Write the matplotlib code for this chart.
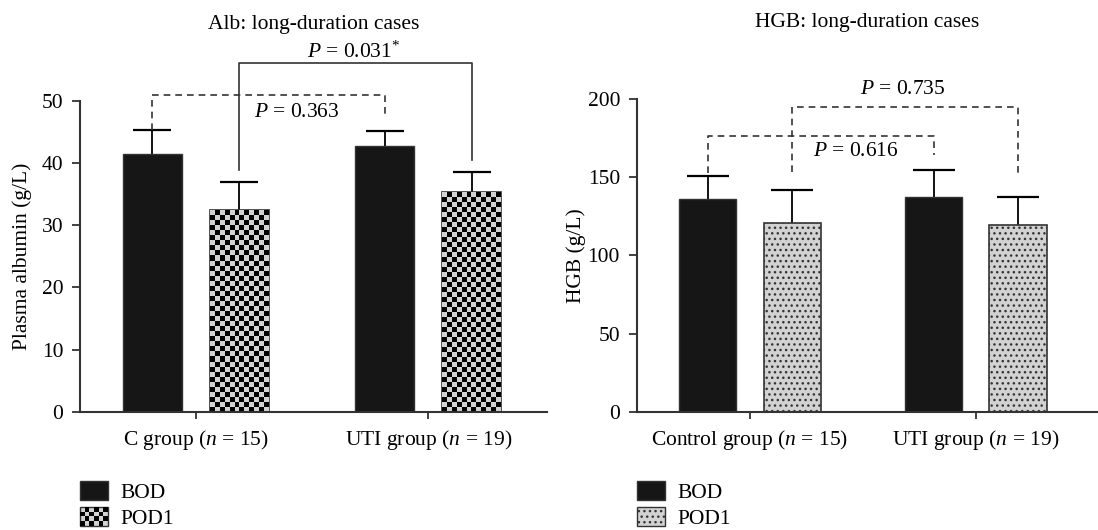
import numpy as np
import matplotlib
matplotlib.use("Agg")
import matplotlib.pyplot as plt
from matplotlib.patches import Rectangle, Patch
from matplotlib.legend_handler import HandlerBase

plt.rcParams['font.family'] = ['Liberation Serif', 'DejaVu Serif']
plt.rcParams['mathtext.fontset'] = 'custom'
plt.rcParams['mathtext.rm'] = 'Liberation Serif'
plt.rcParams['mathtext.it'] = 'Liberation Serif:italic'
plt.rcParams['hatch.linewidth'] = 1.0

# data
series = ['BOD', 'POD1']
alb_groups = ['C group ($n$ = 15)', 'UTI group ($n$ = 19)']
alb_bod = [41.5, 42.8]
alb_bod_err = [3.8, 2.4]
alb_pod = [32.4, 35.4]
alb_pod_err = [4.6, 3.1]
alb_ticks = [0, 10, 20, 30, 40, 50]

hgb_groups = ['Control group ($n$ = 15)', 'UTI group ($n$ = 19)']
hgb_bod = [136.0, 137.6]
hgb_bod_err = [15.0, 17.1]
hgb_pod = [120.6, 119.3]
hgb_pod_err = [21.3, 18.3]
hgb_ticks = [0, 50, 100, 150, 200]

# brackets: (bar a, bar b, top, drop a, drop b, label, label x, label y, dashed)
alb_brackets = [((0, 0), (1, 0), 51.0, 45.3, 47.3, '$P$ = 0.363', 0.435, 48.1, True),
                ((0, 1), (1, 1), 56.1, 38.9, 40.5, '$P$ = 0.031$^{*}$', 0.68, 57.9, False)]
hgb_brackets = [((0, 0), (1, 0), 176.7, 152.8, 164.3, '$P$ = 0.616', 0.470, 166.4, True),
                ((0, 1), (1, 1), 194.9, 153.3, 151.1, '$P$ = 0.735', 0.676, 206.4, True)]

FS = 15.5
DARK = '#333333'
GREY = '#d2d2d2'
width = 0.253
off = 0.187


class CheckerHandler(HandlerBase):
    def create_artists(self, legend, orig_handle, xdescent, ydescent, w, h, fontsize, trans):
        arts = [Rectangle((-xdescent, -ydescent), w, h, facecolor=GREY,
                          edgecolor=DARK, lw=1, transform=trans)]
        n, m = 6, 4
        cw, ch = w / n, h / m
        for i in range(n):
            for j in range(m):
                if (i + j) % 2 == 0:
                    arts.append(Rectangle((-xdescent + i * cw, -ydescent + j * ch), cw, ch,
                                          facecolor='black', lw=0, transform=trans))
        return arts


def checker_fill(ax, bars, px=5):
    # put a checker texture inside each bar, clipped to the bar patch
    for b in bars:
        x0, y0 = b.get_x(), b.get_y()
        x1, y1 = x0 + b.get_width(), y0 + b.get_height()
        p0 = ax.transData.transform((x0, y0))
        p1 = ax.transData.transform((x1, y1))
        nx = max(1, int(round((p1[0] - p0[0]) / px)))
        ny = max(1, int(round((p1[1] - p0[1]) / px)))
        ii, jj = np.indices((ny, nx))
        img = ((ii + jj) % 2).astype(float)
        im = ax.imshow(img, cmap=matplotlib.colors.ListedColormap(['black', GREY]),
                       extent=(x0, x1, y0, y1), origin='lower', aspect='auto',
                       interpolation='nearest', zorder=2.5)
        im.set_clip_path(b)


def panel(ax, groups, bod, bod_err, pod, pod_err, ticks, ylabel, title, brackets, checker, cap, lpad):
    x = np.arange(len(groups))
    xb = x - off
    xp = x + off
    b1 = ax.bar(xb, bod, width, color='#161616', edgecolor=DARK, lw=1, zorder=2)
    if checker:
        b2 = ax.bar(xp, pod, width, color=GREY, edgecolor=DARK, lw=1.2, zorder=2)
    else:
        b2 = ax.bar(xp, pod, width, color=GREY, edgecolor=DARK, lw=1.2, hatch='...', zorder=2)
    for xs, v, e in [(xb, bod, bod_err), (xp, pod, pod_err)]:
        eb = ax.errorbar(xs, v, yerr=[np.zeros(len(v)), e], fmt='none', ecolor='black',
                         elinewidth=1.3, capsize=cap, capthick=1.6, zorder=1)
        eb[1][0].set_visible(False)
    ax.set_ylim(ticks[0], ticks[-1])
    ax.set_yticks(ticks)
    ax.set_xticks(x)
    ax.set_xticklabels(groups)
    for s in ['top', 'right']:
        ax.spines[s].set_visible(False)
    for s in ['left', 'bottom']:
        ax.spines[s].set_color(DARK)
        ax.spines[s].set_linewidth(1.5)
    ax.tick_params(axis='y', length=6, width=1.3, color=DARK, pad=6, labelsize=FS)
    ax.tick_params(axis='x', length=5, width=1.3, color=DARK, pad=7, labelsize=FS)
    ax.set_ylabel(ylabel, fontsize=FS, labelpad=lpad)
    ax.set_title(title, fontsize=FS, pad=52)
    pos = [xb, xp]
    for (a, b, top, da, db, lab, lx, ly, dashed) in brackets:
        xa = pos[a[1]][a[0]]
        xbb = pos[b[1]][b[0]]
        ls = (0, (4, 3)) if dashed else '-'
        ax.plot([xa, xa, xbb, xbb], [da, top, top, db], color=DARK, lw=1.2,
                ls=ls, clip_on=False, zorder=3)
        ax.text(lx, ly, lab, fontsize=FS, ha='center', va='center')
    return b1, b2


fig = plt.figure(figsize=(10.98, 5.30), dpi=100)
ax1 = fig.add_axes([80 / 1098, 1 - 411.7 / 530, 466.7 / 1098, 310.7 / 530])
ax2 = fig.add_axes([636.7 / 1098, 1 - 411.7 / 530, 460.3 / 1098, 312.4 / 530])

ax1.set_xlim(-0.497, 1.509)
ax2.set_xlim(-0.502, 1.537)

bars1 = panel(ax1, alb_groups, alb_bod, alb_bod_err, alb_pod, alb_pod_err, alb_ticks,
              'Plasma albumin (g/L)', 'Alb: long-duration cases', alb_brackets, True, 14, 7)
bars2 = panel(ax2, hgb_groups, hgb_bod, hgb_bod_err, hgb_pod, hgb_pod_err, hgb_ticks,
              'HGB (g/L)', 'HGB: long-duration cases', hgb_brackets, False, 15, 1)

checker_fill(ax1, bars1[1])

bod_h = Patch(facecolor='#161616', edgecolor=DARK)
chk_h = Patch(facecolor=GREY, edgecolor=DARK)
dot_h = Patch(facecolor=GREY, edgecolor=DARK, hatch='...')

leg_kw = dict(loc='upper left', frameon=False, fontsize=FS, borderpad=0, borderaxespad=0,
              handlelength=1.3, handleheight=0.95, handletextpad=0.6, labelspacing=0.2)
fig.legend([bod_h, chk_h], series, bbox_to_anchor=(80 / 1098, 1 - 481 / 530),
           handler_map={chk_h: CheckerHandler()}, **leg_kw)
fig.legend([bod_h, dot_h], series, bbox_to_anchor=(636.7 / 1098, 1 - 481 / 530), **leg_kw)

fig.savefig('out.png', dpi=100)
